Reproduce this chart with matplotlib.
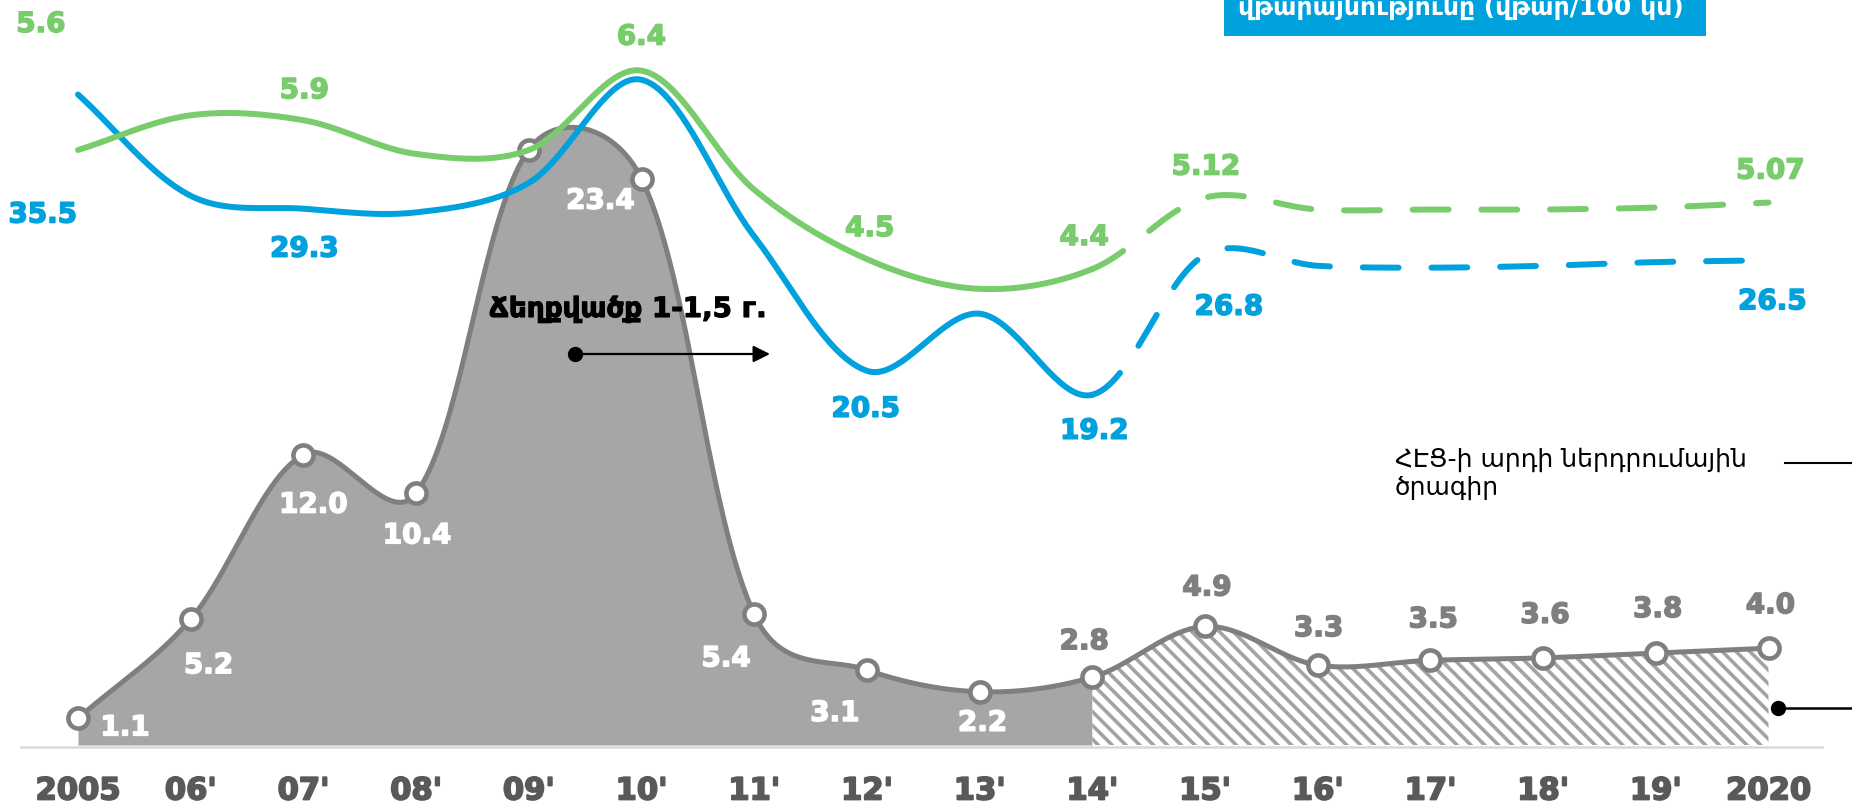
import numpy as np
import matplotlib
matplotlib.use("Agg")
import matplotlib.pyplot as plt
import matplotlib.patheffects as pe
from matplotlib.collections import LineCollection
from matplotlib.patches import Polygon, Rectangle, FancyArrowPatch
from matplotlib.transforms import IdentityTransform

# ---- data -------------------------------------------------------------
years = ["2005", "06'", "07'", "08'", "09'", "10'", "11'", "12'",
         "13'", "14'", "15'", "16'", "17'", "18'", "19'", "2020"]
investment = [1.1, 5.2, 12.0, 10.4, 24.6, 23.4, 5.4, 3.1,
              2.2, 2.8, 4.9, 3.3, 3.5, 3.6, 3.8, 4.0]
losses = [35.5, 30.0, 29.3, 29.1, 30.7, 36.3, 27.8, 20.5,
          23.6, 19.2, 26.8, 26.2, 26.1, 26.2, 26.4, 26.5]
outages = [5.6, 5.95, 5.9, 5.56, 5.6, 6.4, 5.2, 4.5,
           4.2, 4.4, 5.12, 5.0, 5.0, 5.0, 5.02, 5.07]
last_actual = 9  # index of 14', after which values are planned

# labelled points: index -> label offset in pixels
inv_labels = {0: (47, -9), 1: (18, -46), 2: (10, -50), 3: (1, -42),
              5: (-41, -22), 6: (-28, -44), 7: (-32, -43), 8: (3, -31),
              9: (-8, 36), 10: (2, 39), 11: (1, 37), 12: (3, 41),
              13: (2, 43), 14: (2, 44), 15: (2, 43)}
loss_labels = {0: (-35, -120), 2: (1, -40), 7: (-1, -38), 9: (2, -36),
               10: (24, -52), 15: (4, -41)}
out_labels = {0: (-37, 126), 2: (1, 30), 5: (0, 34), 7: (3, 31),
              9: (-8, 32), 10: (1, 31), 15: (2, 32)}

title_text = "վթարայնությունը (վթար/100 կմ)"
legend_text = ["ՀԷՑ-ի արդի ներդրումային", "ծրագիր"]
note_text = "Ճեղքվածք 1-1,5 г."

# ---- style ------------------------------------------------------------
GREEN = "#78cc6c"
BLUE = "#00a1dd"
GRAY_LINE = "#7f7f7f"
GRAY_FILL = "#a6a6a6"
TICK_COLOR = "#595959"
W, H = 1852, 806
x0, step = 78, 112.7


def heavy(color, w=1.1):
    """Slight outline in the text colour to make bold numbers heavier."""
    return [pe.withStroke(linewidth=w, foreground=color)]


def smooth(values, ypx, per=40):
    """Smoothed Bezier curve through the points, built in pixel space
    with control arms weighted by neighbouring segment lengths."""
    n = len(values)
    P = np.column_stack([np.arange(n) * step, np.asarray(values, float) * ypx])
    ext = np.vstack([2 * P[0] - P[1], P, 2 * P[-1] - P[-2]])
    fwd, bwd = [], []
    for i in range(n):
        a, p, b = ext[i], ext[i + 1], ext[i + 2]
        d = b - a
        lp, ln = np.hypot(*(p - a)), np.hypot(*(b - p))
        wf = 0.5 * (1 / 6 + ln / (lp + ln) / 3)
        wb = 0.5 * (1 / 6 + lp / (lp + ln) / 3)
        fwd.append(p + d * wf)
        bwd.append(p - d * wb)
    t = np.linspace(0, 1, per, endpoint=False)[:, None]
    pts = []
    for i in range(n - 1):
        p0, c1, c2, p3 = P[i], fwd[i], bwd[i + 1], P[i + 1]
        pts.append((1 - t) ** 3 * p0 + 3 * (1 - t) ** 2 * t * c1
                   + 3 * (1 - t) * t ** 2 * c2 + t ** 3 * p3)
    pts.append(P[-1:])
    pts = np.vstack(pts)
    return pts[:, 0] / step, pts[:, 1] / ypx


fig = plt.figure(figsize=(W / 100, H / 100), dpi=100)
fig.patch.set_facecolor("white")
xlim = (-x0 / step, (W - x0) / step)


def make_axes(ylim, z):
    a = fig.add_axes([0, 0, 1, 1], zorder=z)
    a.set_xlim(*xlim)
    a.set_ylim(*ylim)
    a.axis("off")
    a.patch.set_alpha(0)
    return a


G_PX, B_PX, O_PX = 24.2, 18.42, 99.2
ax_g = make_axes((-61 / G_PX, 745 / G_PX), 1)
ax_b = make_axes((35.5 - (H - 94.5) / B_PX, 35.5 + 94.5 / B_PX), 2)
ax_o = make_axes((5.6 - (H - 150) / O_PX, 5.6 + 150 / O_PX), 3)

idx = np.arange(len(years))

# ---- investment area --------------------------------------------------
sx, sy = smooth(investment, G_PX)
past = sx <= last_actual + 1e-9
ax_g.fill_between(sx[past], 0, sy[past], color=GRAY_FILL, lw=0, zorder=1)

fut = sx >= last_actual - 1e-9
poly = Polygon(np.column_stack([np.r_[sx[fut], sx[fut][-1], sx[fut][0]],
                                np.r_[sy[fut], 0, 0]]),
               closed=True, facecolor="white", edgecolor="none", zorder=1)
ax_g.add_patch(poly)
segs = [[(c, H), (c + H, 0)] for c in np.arange(-H, W + 20, 13.8)]
hatch = LineCollection(segs, colors="#a3a3a3", linewidths=2.6,
                       transform=IdentityTransform(), zorder=1.5)
hatch.set_clip_path(poly)
ax_g.add_collection(hatch)

ax_g.plot(sx, sy, color=GRAY_LINE, lw=3.6, zorder=2, solid_capstyle="round")
ax_g.plot(idx, investment, ls="none", marker="o", ms=14.5, mfc="white",
          mec=GRAY_LINE, mew=3.3, zorder=3)

for i, (dx, dy) in inv_labels.items():
    col = "white" if i < last_actual else GRAY_LINE
    ax_g.annotate(str(investment[i]), (i, investment[i]), xytext=(dx, dy),
                  textcoords="offset pixels", ha="center", va="center",
                  fontsize=20, fontweight="bold", color=col, zorder=5,
                  path_effects=heavy(col))

# baseline
ax_g.plot([(21 - x0) / step, (1822 - x0) / step], [-2 / G_PX] * 2,
          color="#d9d9d9", lw=1.8, zorder=0.5, clip_on=False)

# ---- blue and green lines ---------------------------------------------
for a, vals, col, labels, ypx in ((ax_b, losses, BLUE, loss_labels, B_PX),
                                  (ax_o, outages, GREEN, out_labels, O_PX)):
    lx, ly = smooth(vals, ypx)
    m = lx <= last_actual + 1e-9
    a.plot(lx[m], ly[m], color=col, lw=4.3, solid_capstyle="round")
    m2 = lx >= last_actual - 1e-9
    a.plot(lx[m2], ly[m2], color=col, lw=4.3, ls=(0, (6, 5.5)),
           dash_capstyle="round")
    for i, (dx, dy) in labels.items():
        a.annotate(str(vals[i]), (i, vals[i]), xytext=(dx, dy),
                   textcoords="offset pixels", ha="center", va="center",
                   fontsize=20, fontweight="bold", color=col,
                   path_effects=heavy(col))

# ---- x tick labels -----------------------------------------------------
for i, lab in enumerate(years):
    ax_o.text(i, 1 - 791 / H, lab, transform=ax_o.get_xaxis_transform(),
              ha="center", va="center", fontsize=22, fontweight="bold",
              color=TICK_COLOR, path_effects=heavy(TICK_COLOR, 1.3))


# ---- annotations (figure pixel coordinates) ----------------------------
def fx(px):
    return px / W


def fy(py):
    return 1 - py / H


fig.patches.append(Rectangle((fx(1224), fy(36)), fx(1706) - fx(1224),
                             1 - fy(36), transform=fig.transFigure,
                             facecolor="#00a2de", edgecolor="none", zorder=10))
fig.text(fx(1461), fy(15), title_text, ha="center", va="baseline",
         fontsize=18, fontweight="bold", color="white", zorder=11)

fig.text(fx(1395), fy(467), legend_text[0], ha="left", va="baseline",
         fontsize=18, color="black")
fig.text(fx(1395), fy(495), legend_text[1], ha="left", va="baseline",
         fontsize=18, color="black")
fig.lines.append(plt.Line2D([fx(1785), 1], [fy(463)] * 2,
                            transform=fig.transFigure, color="black", lw=1.5))

fig.lines.append(plt.Line2D([fx(1778), 1], [fy(708)] * 2,
                            transform=fig.transFigure, color="black", lw=1.8,
                            zorder=12))
fig.lines.append(plt.Line2D([fx(1778)], [fy(708)], marker="o", ms=10,
                            color="black", transform=fig.transFigure,
                            zorder=12))

fig.text(fx(628), fy(317), note_text, ha="center", va="baseline",
         fontsize=20, fontweight="bold", color="black", zorder=12,
         path_effects=heavy("black", 0.8))
fig.patches.append(FancyArrowPatch(
    (fx(575), fy(354)), (fx(770), fy(354)), transform=fig.transFigure,
    arrowstyle="-|>,head_length=10,head_width=5", color="black", lw=1.6,
    zorder=12, shrinkA=0, shrinkB=0))
fig.lines.append(plt.Line2D([fx(575)], [fy(354)], marker="o", ms=10,
                            color="black", transform=fig.transFigure,
                            zorder=12))

fig.savefig("out.png", dpi=100)
